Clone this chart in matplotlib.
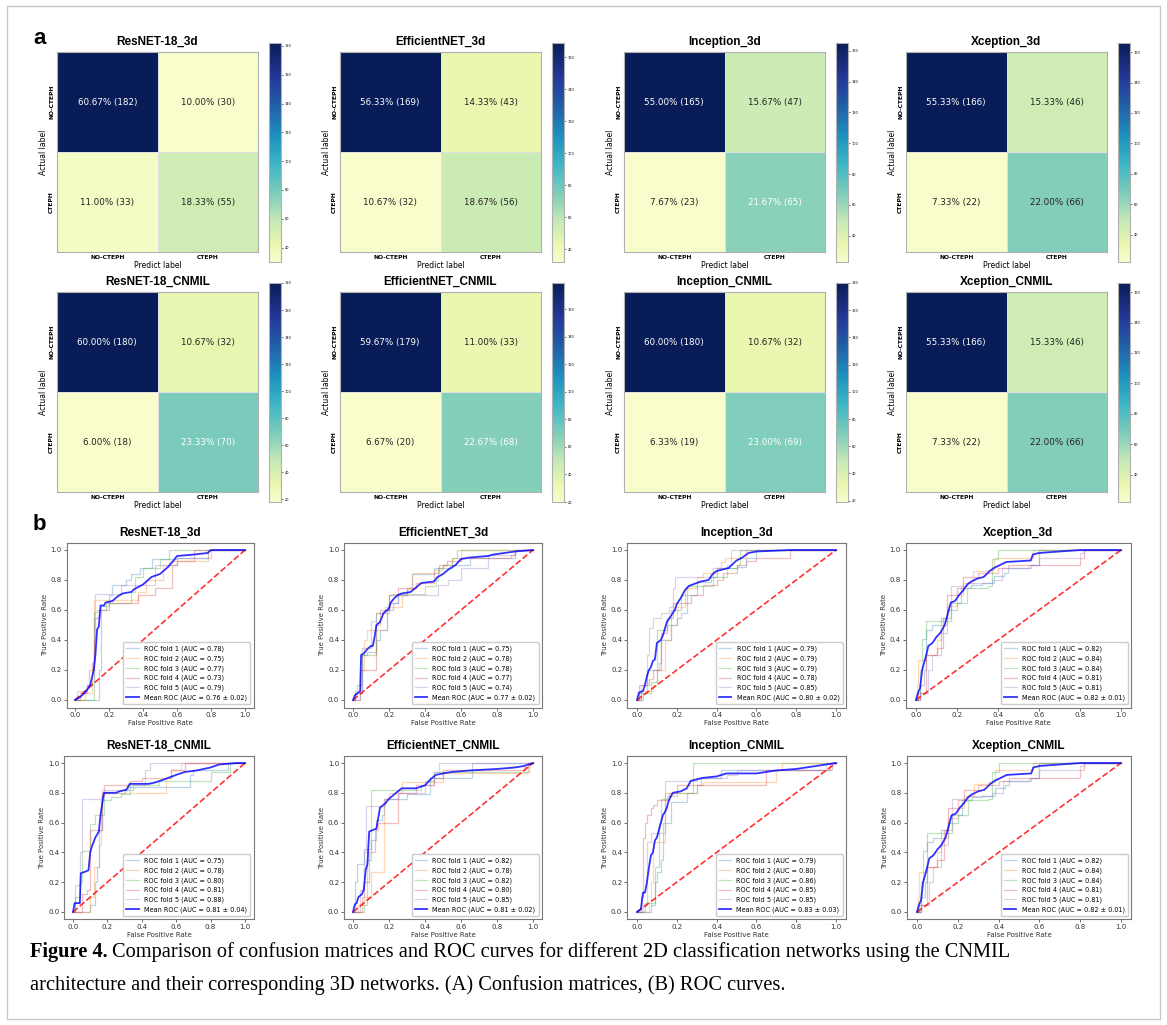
import numpy as np
import matplotlib.pyplot as plt
import seaborn as sns
from matplotlib.colors import ListedColormap
from matplotlib.patches import Rectangle

W, H = 1167, 1025

class_names = ["NO-CTEPH", "CTEPH"]
titles_3d = ["ResNET-18_3d", "EfficientNET_3d", "Inception_3d", "Xception_3d"]
titles_cnmil = ["ResNET-18_CNMIL", "EfficientNET_CNMIL", "Inception_CNMIL", "Xception_CNMIL"]

# confusion matrices (counts), rows = actual, cols = predicted
cm_resnet_3d = [[182, 30], [33, 55]]
cm_efficient_3d = [[169, 43], [32, 56]]
cm_inception_3d = [[165, 47], [23, 65]]
cm_xception_3d = [[166, 46], [22, 66]]
cm_resnet_cnmil = [[180, 32], [18, 70]]
cm_efficient_cnmil = [[179, 33], [20, 68]]
cm_inception_cnmil = [[180, 32], [19, 69]]
cm_xception_cnmil = [[166, 46], [22, 66]]

# ROC curves: (fpr, tpr) step points per fold
roc_resnet_3d = [
    [(0, 0), (0.14, 0.2), (0.15, 0.63), (0.2, 0.7), (0.22, 0.77), (0.3, 0.8), (0.33, 0.84), (0.38, 0.88), (0.45, 0.94), (0.6, 0.95), (0.78, 1.0), (1, 1)],
    [(0, 0), (0.06, 0.05), (0.1, 0.2), (0.11, 0.67), (0.37, 0.72), (0.42, 0.8), (0.52, 0.9), (0.55, 0.93), (0.78, 1.0), (1, 1)],
    [(0, 0), (0.11, 0.59), (0.13, 0.6), (0.18, 0.65), (0.33, 0.72), (0.35, 0.82), (0.4, 0.88), (0.5, 0.94), (0.55, 1.0), (1, 1)],
    [(0, 0), (0.03, 0.05), (0.07, 0.1), (0.08, 0.2), (0.1, 0.25), (0.11, 0.4), (0.12, 0.55), (0.14, 0.6), (0.2, 0.65), (0.37, 0.7), (0.47, 0.75), (0.57, 0.9), (0.6, 0.93), (0.7, 1.0), (1, 1)],
    [(0, 0), (0.01, 0.06), (0.07, 0.1), (0.1, 0.12), (0.11, 0.55), (0.12, 0.71), (0.27, 0.77), (0.47, 0.9), (0.6, 0.95), (0.8, 1.0), (1, 1)],
]
mean_resnet_3d = [(0, 0), (0.03, 0.02), (0.06, 0.05), (0.09, 0.1), (0.11, 0.2), (0.12, 0.3), (0.13, 0.47), (0.14, 0.49), (0.15, 0.63), (0.17, 0.63), (0.18, 0.65), (0.22, 0.66), (0.25, 0.69), (0.28, 0.71), (0.33, 0.72), (0.35, 0.74), (0.4, 0.77), (0.45, 0.82), (0.5, 0.84), (0.52, 0.86), (0.55, 0.89), (0.58, 0.93), (0.6, 0.96), (0.7, 0.97), (0.78, 0.98), (0.8, 1.0), (1, 1)]
auc_resnet_3d = [0.78, 0.75, 0.77, 0.73, 0.79]
mean_auc_resnet_3d = (0.76, 0.02)

roc_efficient_3d = [
    [(0, 0), (0.01, 0.05), (0.05, 0.3), (0.08, 0.32), (0.13, 0.4), (0.15, 0.47), (0.19, 0.6), (0.22, 0.65), (0.25, 0.7), (0.3, 0.75), (0.33, 0.84), (0.45, 0.88), (0.55, 0.9), (0.65, 0.95), (0.9, 1.0), (1, 1)],
    [(0, 0), (0.01, 0.05), (0.04, 0.2), (0.06, 0.4), (0.08, 0.47), (0.19, 0.6), (0.2, 0.62), (0.27, 0.7), (0.3, 0.74), (0.33, 0.85), (0.45, 0.87), (0.5, 0.9), (0.55, 0.95), (0.6, 1.0), (1, 1)],
    [(0, 0), (0.01, 0.06), (0.02, 0.1), (0.05, 0.3), (0.13, 0.58), (0.18, 0.62), (0.2, 0.7), (0.22, 0.71), (0.4, 0.76), (0.46, 0.8), (0.47, 0.88), (0.5, 0.9), (0.55, 0.95), (0.58, 1.0), (1, 1)],
    [(0, 0), (0.04, 0.2), (0.13, 0.5), (0.15, 0.6), (0.2, 0.7), (0.25, 0.75), (0.35, 0.78), (0.45, 0.85), (0.48, 0.9), (0.52, 0.93), (0.6, 0.95), (0.88, 0.97), (0.9, 1.0), (1, 1)],
    [(0, 0), (0.04, 0.05), (0.05, 0.35), (0.1, 0.53), (0.13, 0.58), (0.2, 0.65), (0.25, 0.7), (0.47, 0.77), (0.53, 0.8), (0.6, 0.88), (0.75, 0.97), (0.9, 1.0), (1, 1)],
]
mean_efficient_3d = [(0, 0), (0.01, 0.03), (0.03, 0.05), (0.04, 0.06), (0.045, 0.3), (0.06, 0.31), (0.08, 0.34), (0.1, 0.36), (0.11, 0.36), (0.12, 0.42), (0.13, 0.5), (0.15, 0.52), (0.17, 0.58), (0.2, 0.61), (0.21, 0.65), (0.23, 0.68), (0.25, 0.7), (0.27, 0.71), (0.32, 0.72), (0.35, 0.75), (0.38, 0.78), (0.45, 0.79), (0.47, 0.82), (0.5, 0.84), (0.53, 0.87), (0.57, 0.9), (0.6, 0.94), (0.65, 0.95), (0.75, 0.96), (0.78, 0.97), (0.9, 0.99), (1, 1)]
auc_efficient_3d = [0.75, 0.78, 0.78, 0.77, 0.74]
mean_auc_efficient_3d = (0.77, 0.02)

roc_inception_3d = [
    [(0, 0), (0.03, 0.05), (0.05, 0.2), (0.11, 0.25), (0.12, 0.4), (0.17, 0.5), (0.2, 0.55), (0.22, 0.58), (0.25, 0.7), (0.3, 0.79), (0.37, 0.82), (0.4, 0.88), (0.5, 0.89), (0.55, 0.95), (0.6, 1.0), (1, 1)],
    [(0, 0), (0.02, 0.06), (0.08, 0.1), (0.1, 0.2), (0.14, 0.4), (0.17, 0.5), (0.2, 0.62), (0.24, 0.75), (0.3, 0.82), (0.33, 0.85), (0.4, 0.88), (0.42, 0.92), (0.44, 0.95), (0.55, 1.0), (1, 1)],
    [(0, 0), (0.01, 0.05), (0.07, 0.12), (0.1, 0.47), (0.15, 0.5), (0.17, 0.6), (0.22, 0.7), (0.25, 0.76), (0.38, 0.82), (0.45, 0.88), (0.5, 0.9), (0.52, 1.0), (1, 1)],
    [(0, 0), (0.01, 0.1), (0.06, 0.14), (0.08, 0.2), (0.12, 0.45), (0.15, 0.55), (0.18, 0.65), (0.27, 0.7), (0.33, 0.77), (0.4, 0.8), (0.43, 0.85), (0.5, 0.9), (0.55, 0.93), (0.6, 0.95), (0.77, 1.0), (1, 1)],
    [(0, 0), (0.02, 0.1), (0.05, 0.3), (0.06, 0.48), (0.08, 0.55), (0.12, 0.58), (0.16, 0.62), (0.18, 0.75), (0.19, 0.82), (0.38, 0.88), (0.45, 0.9), (0.47, 1.0), (1, 1)],
]
mean_inception_3d = [(0, 0), (0.01, 0.05), (0.03, 0.06), (0.04, 0.1), (0.05, 0.16), (0.06, 0.2), (0.07, 0.22), (0.08, 0.26), (0.09, 0.27), (0.1, 0.38), (0.12, 0.4), (0.13, 0.43), (0.15, 0.52), (0.17, 0.56), (0.19, 0.6), (0.2, 0.64), (0.22, 0.68), (0.24, 0.73), (0.26, 0.76), (0.28, 0.77), (0.32, 0.79), (0.36, 0.8), (0.38, 0.84), (0.4, 0.86), (0.43, 0.87), (0.46, 0.88), (0.5, 0.93), (0.53, 0.95), (0.56, 0.98), (0.6, 0.99), (0.77, 1.0), (1, 1)]
auc_inception_3d = [0.79, 0.79, 0.79, 0.78, 0.85]
mean_auc_inception_3d = (0.80, 0.02)

roc_xception_3d = [
    [(0, 0), (0.02, 0.1), (0.04, 0.2), (0.05, 0.47), (0.08, 0.5), (0.12, 0.55), (0.15, 0.6), (0.17, 0.65), (0.22, 0.75), (0.27, 0.77), (0.32, 0.78), (0.38, 0.83), (0.43, 0.85), (0.45, 0.88), (0.56, 0.9), (0.6, 1.0), (1, 1)],
    [(0, 0), (0.005, 0.1), (0.01, 0.27), (0.05, 0.3), (0.1, 0.4), (0.12, 0.5), (0.15, 0.63), (0.2, 0.7), (0.23, 0.78), (0.28, 0.86), (0.35, 0.87), (0.38, 0.95), (0.57, 1.0), (1, 1)],
    [(0, 0), (0.02, 0.2), (0.03, 0.41), (0.05, 0.53), (0.17, 0.6), (0.2, 0.65), (0.25, 0.75), (0.35, 0.76), (0.37, 0.94), (0.4, 1.0), (1, 1)],
    [(0, 0), (0.01, 0.05), (0.05, 0.3), (0.1, 0.35), (0.13, 0.55), (0.15, 0.7), (0.2, 0.75), (0.23, 0.82), (0.3, 0.85), (0.4, 0.88), (0.45, 0.9), (0.8, 0.95), (0.82, 1.0), (1, 1)],
    [(0, 0), (0.02, 0.05), (0.06, 0.2), (0.08, 0.3), (0.12, 0.45), (0.15, 0.55), (0.17, 0.76), (0.25, 0.78), (0.37, 0.8), (0.42, 0.88), (0.55, 0.9), (0.6, 0.95), (0.8, 0.98), (0.82, 1.0), (1, 1)],
]
mean_xception_3d = [(0, 0), (0.01, 0.05), (0.02, 0.08), (0.03, 0.2), (0.04, 0.25), (0.05, 0.3), (0.06, 0.36), (0.08, 0.38), (0.1, 0.42), (0.12, 0.45), (0.14, 0.5), (0.15, 0.55), (0.16, 0.6), (0.17, 0.65), (0.19, 0.66), (0.21, 0.7), (0.23, 0.73), (0.25, 0.77), (0.27, 0.79), (0.3, 0.81), (0.33, 0.82), (0.36, 0.86), (0.38, 0.88), (0.41, 0.9), (0.44, 0.92), (0.56, 0.93), (0.57, 0.97), (0.6, 0.98), (0.8, 1.0), (1, 1)]
auc_xception_3d = [0.82, 0.84, 0.84, 0.81, 0.81]
mean_auc_xception_3d = (0.82, 0.01)

roc_resnet_cnmil = [
    [(0, 0), (0.1, 0.05), (0.13, 0.2), (0.14, 0.3), (0.15, 0.55), (0.17, 0.75), (0.18, 0.8), (0.3, 0.82), (0.32, 0.84), (0.68, 0.92), (0.7, 0.95), (0.9, 1.0), (1, 1)],
    [(0, 0), (0.1, 0.1), (0.12, 0.3), (0.15, 0.45), (0.16, 0.78), (0.18, 0.8), (0.54, 0.9), (0.57, 0.95), (0.63, 1.0), (1, 1)],
    [(0, 0), (0.01, 0.1), (0.04, 0.2), (0.05, 0.41), (0.1, 0.59), (0.13, 0.65), (0.18, 0.75), (0.22, 0.77), (0.28, 0.79), (0.33, 0.85), (0.5, 0.88), (0.8, 0.94), (0.91, 1.0), (1, 1)],
    [(0, 0), (0.05, 0.12), (0.08, 0.15), (0.1, 0.55), (0.17, 0.8), (0.18, 0.85), (0.33, 0.88), (0.4, 0.9), (0.57, 0.95), (0.65, 1.0), (1, 1)],
    [(0, 0), (0.01, 0.18), (0.04, 0.4), (0.05, 0.76), (0.17, 0.82), (0.35, 0.85), (0.42, 0.95), (0.45, 1.0), (1, 1)],
]
mean_resnet_cnmil = [(0, 0), (0.01, 0.06), (0.04, 0.06), (0.045, 0.26), (0.07, 0.27), (0.09, 0.28), (0.1, 0.4), (0.11, 0.44), (0.13, 0.5), (0.15, 0.54), (0.16, 0.65), (0.17, 0.73), (0.18, 0.8), (0.25, 0.8), (0.27, 0.81), (0.31, 0.82), (0.33, 0.86), (0.44, 0.86), (0.48, 0.87), (0.53, 0.89), (0.6, 0.92), (0.65, 0.94), (0.72, 0.95), (0.8, 0.97), (0.85, 0.99), (0.95, 1.0), (1, 1)]
auc_resnet_cnmil = [0.75, 0.78, 0.80, 0.81, 0.88]
mean_auc_resnet_cnmil = (0.81, 0.04)

roc_efficient_cnmil = [
    [(0, 0), (0.01, 0.2), (0.02, 0.32), (0.06, 0.42), (0.1, 0.48), (0.13, 0.62), (0.16, 0.65), (0.17, 0.76), (0.3, 0.79), (0.43, 0.9), (0.66, 1.0), (1, 1)],
    [(0, 0), (0.03, 0.05), (0.06, 0.1), (0.1, 0.27), (0.17, 0.76), (0.2, 0.8), (0.27, 0.87), (0.5, 0.93), (0.97, 1.0), (1, 1)],
    [(0, 0), (0.06, 0.05), (0.08, 0.35), (0.1, 0.82), (0.38, 0.85), (0.4, 0.88), (0.45, 0.94), (0.98, 1.0), (1, 1)],
    [(0, 0), (0.05, 0.1), (0.06, 0.2), (0.09, 0.4), (0.12, 0.55), (0.14, 0.6), (0.25, 0.8), (0.35, 0.85), (0.45, 0.9), (0.5, 0.95), (0.95, 0.97), (0.97, 1.0), (1, 1)],
    [(0, 0), (0.04, 0.15), (0.06, 0.4), (0.07, 0.71), (0.18, 0.76), (0.25, 0.8), (0.4, 0.85), (0.45, 0.94), (0.48, 1.0), (1, 1)],
]
mean_efficient_cnmil = [(0, 0), (0.01, 0.05), (0.02, 0.06), (0.03, 0.1), (0.05, 0.12), (0.06, 0.15), (0.07, 0.28), (0.08, 0.32), (0.09, 0.54), (0.11, 0.55), (0.13, 0.56), (0.15, 0.7), (0.18, 0.73), (0.2, 0.76), (0.22, 0.78), (0.24, 0.8), (0.27, 0.83), (0.35, 0.83), (0.4, 0.85), (0.43, 0.89), (0.46, 0.92), (0.5, 0.93), (0.55, 0.94), (0.65, 0.95), (0.8, 0.96), (0.9, 0.97), (0.95, 0.98), (1, 1)]
auc_efficient_cnmil = [0.82, 0.78, 0.82, 0.80, 0.85]
mean_auc_efficient_cnmil = (0.81, 0.02)

roc_inception_cnmil = [
    [(0, 0), (0.07, 0.05), (0.09, 0.2), (0.1, 0.27), (0.12, 0.35), (0.13, 0.6), (0.17, 0.74), (0.25, 0.8), (0.3, 0.85), (0.32, 0.9), (0.42, 0.95), (0.98, 1.0), (1, 1)],
    [(0, 0), (0.06, 0.05), (0.07, 0.2), (0.08, 0.47), (0.14, 0.8), (0.3, 0.85), (0.33, 0.87), (0.7, 0.95), (0.73, 1.0), (1, 1)],
    [(0, 0), (0.04, 0.06), (0.09, 0.3), (0.11, 0.6), (0.12, 0.76), (0.15, 0.78), (0.2, 0.8), (0.28, 1.0), (1, 1)],
    [(0, 0), (0.02, 0.1), (0.03, 0.5), (0.04, 0.6), (0.05, 0.65), (0.07, 0.7), (0.08, 0.72), (0.1, 0.75), (0.16, 0.8), (0.2, 0.85), (0.65, 0.95), (0.97, 1.0), (1, 1)],
    [(0, 0), (0.03, 0.05), (0.05, 0.47), (0.07, 0.53), (0.14, 0.88), (0.3, 0.9), (0.45, 0.92), (0.5, 0.95), (0.95, 1.0), (1, 1)],
]
mean_inception_cnmil = [(0, 0), (0.02, 0.02), (0.03, 0.13), (0.04, 0.13), (0.05, 0.2), (0.06, 0.3), (0.07, 0.38), (0.08, 0.4), (0.09, 0.48), (0.1, 0.5), (0.11, 0.55), (0.12, 0.6), (0.13, 0.65), (0.14, 0.67), (0.15, 0.7), (0.16, 0.75), (0.18, 0.8), (0.22, 0.81), (0.25, 0.83), (0.27, 0.88), (0.3, 0.89), (0.33, 0.9), (0.4, 0.91), (0.45, 0.93), (0.6, 0.93), (0.65, 0.94), (0.7, 0.95), (0.8, 0.96), (0.9, 0.98), (0.95, 0.99), (1, 1)]
auc_inception_cnmil = [0.79, 0.80, 0.86, 0.85, 0.85]
mean_auc_inception_cnmil = (0.83, 0.03)

# Xception_CNMIL panel shows the same curves as Xception_3d
roc_xception_cnmil = roc_xception_3d
mean_xception_cnmil = mean_xception_3d
auc_xception_cnmil = [0.82, 0.84, 0.84, 0.81, 0.81]
mean_auc_xception_cnmil = (0.82, 0.01)

cms = [[cm_resnet_3d, cm_efficient_3d, cm_inception_3d, cm_xception_3d],
       [cm_resnet_cnmil, cm_efficient_cnmil, cm_inception_cnmil, cm_xception_cnmil]]
rocs = [[(roc_resnet_3d, mean_resnet_3d, auc_resnet_3d, mean_auc_resnet_3d),
         (roc_efficient_3d, mean_efficient_3d, auc_efficient_3d, mean_auc_efficient_3d),
         (roc_inception_3d, mean_inception_3d, auc_inception_3d, mean_auc_inception_3d),
         (roc_xception_3d, mean_xception_3d, auc_xception_3d, mean_auc_xception_3d)],
        [(roc_resnet_cnmil, mean_resnet_cnmil, auc_resnet_cnmil, mean_auc_resnet_cnmil),
         (roc_efficient_cnmil, mean_efficient_cnmil, auc_efficient_cnmil, mean_auc_efficient_cnmil),
         (roc_inception_cnmil, mean_inception_cnmil, auc_inception_cnmil, mean_auc_inception_cnmil),
         (roc_xception_cnmil, mean_xception_cnmil, auc_xception_cnmil, mean_auc_xception_cnmil)]]
titles = [titles_3d, titles_cnmil]
# counts at or above which the cell text is drawn white
white_from = [[100, 100, 60, 100], [60, 60, 60, 100]]

# YlGnBu, slightly shifted toward green like the reference rendering
base = plt.get_cmap("YlGnBu")
cm_cmap = ListedColormap(base(0.04 + 0.96 * np.linspace(0, 1, 256) ** 0.9))

fig = plt.figure(figsize=(W / 100, H / 100), dpi=100)
fig.patch.set_facecolor("white")


def px_axes(left, top, right, bottom):
    return fig.add_axes([left / W, 1 - bottom / H, (right - left) / W, (bottom - top) / H])


# page frame
fig.patches.append(Rectangle((7 / W, 1 - 1019 / H), 1153 / W, 1013 / H, transform=fig.transFigure,
                             fill=False, edgecolor="#c8c8c8", lw=1))

# ---------- (a) confusion matrices ----------
hm_left = [57, 340, 624, 906]
cb_left = [269, 552, 836, 1118]
row_top = [52, 292]
for r in range(2):
    for c in range(4):
        data = np.array(cms[r][c])
        total = data.sum()
        t = row_top[r]
        ax = px_axes(hm_left[c], t, hm_left[c] + 201, t + 200)
        cax = px_axes(cb_left[c], t - 9, cb_left[c] + 12, t + 210)
        sns.heatmap(data, annot=False, cmap=cm_cmap, ax=ax, cbar_ax=cax,
                    linewidths=0.6, linecolor="#e0e0e0")
        for i in range(2):
            for j in range(2):
                v = data[i, j]
                ax.text(j + 0.5, i + 0.5, f"{v / total * 100:.2f}% ({v})", ha="center", va="center",
                        fontsize=6.3, color="white" if v >= white_from[r][c] else "#222222")
        ax.set_xticklabels(class_names, fontsize=4.3, fontweight="bold")
        ax.set_yticklabels(class_names, fontsize=4.3, fontweight="bold", rotation=90, va="center")
        ax.tick_params(length=0, pad=2)
        ax.set_xlabel("Predict label", fontsize=5.5, labelpad=1)
        ax.set_ylabel("Actual label", fontsize=5.5, labelpad=1)
        ax.set_title(titles[r][c], fontsize=8.5, fontweight="bold", family="Liberation Sans", pad=5)
        for sp in ax.spines.values():
            sp.set_visible(True)
            sp.set_color("#b0b0b0")
            sp.set_linewidth(0.8)
        cbar = ax.collections[0].colorbar
        cbar.outline.set_edgecolor("#b0b0b0")
        cbar.outline.set_linewidth(0.8)
        cax.tick_params(labelsize=2.5, length=1.5, width=0.4, pad=1)

fig.text(33 / W, 1 - 38 / H, "a", fontsize=16, fontweight="bold", family="Liberation Sans", va="center")
fig.text(33 / W, 1 - 525 / H, "b", fontsize=16, fontweight="bold", family="Liberation Sans", va="center")

# ---------- (b) ROC curves ----------
x0_px = [[75, 353, 637, 916], [73, 353, 637, 917]]
x1_px = [[245, 533, 836, 1121], [245, 533, 836, 1121]]
y1_px = [550, 763]
y0_px = [700, 912]
fold_colors = ["C0", "C1", "C2", "C3", "C4"]
for r in range(2):
    for c in range(4):
        folds, mean_pts, aucs, (m_auc, s_auc) = rocs[r][c]
        sx = x1_px[r][c] - x0_px[r][c]
        sy = y0_px[r] - y1_px[r]
        ax = px_axes(x0_px[r][c] - 0.05 * sx, y1_px[r] - 0.05 * sy,
                     x1_px[r][c] + 0.05 * sx, y0_px[r] + 0.05 * sy)
        for i, pts in enumerate(folds):
            fx, fy = zip(*pts)
            ax.plot(fx, fy, drawstyle="steps-post", color=fold_colors[i], lw=0.9, alpha=0.3,
                    label=f"ROC fold {i + 1} (AUC = {aucs[i]:.2f})")
        ax.plot([0, 1], [0, 1], linestyle="--", lw=1.2, color="r", alpha=0.8)
        mx, my = zip(*mean_pts)
        ax.plot(mx, my, color="b", lw=1.3, alpha=0.8,
                label=f"Mean ROC (AUC = {m_auc:.2f} \u00b1 {s_auc:.2f})")
        ax.set_xlim(-0.05, 1.05)
        ax.set_ylim(-0.05, 1.05)
        ax.set_xticks(np.arange(0, 1.01, 0.2))
        ax.set_yticks(np.arange(0, 1.01, 0.2))
        ax.tick_params(labelsize=5, length=2, width=0.5, pad=1.5, colors="#333333")
        ax.set_xlabel("False Positive Rate", fontsize=5, labelpad=1.5, color="#333333")
        ax.set_ylabel("True Positive Rate", fontsize=5, labelpad=2, color="#333333")
        ax.set_title(titles[r][c], fontsize=8.5, fontweight="bold", family="Liberation Sans", pad=5)
        for sp in ax.spines.values():
            sp.set_color("#777777")
            sp.set_linewidth(0.8)
        ax.legend(loc="lower right", fontsize=4.7, handlelength=1.9, borderpad=0.5,
                  labelspacing=0.5, framealpha=1, edgecolor="#cccccc", fancybox=True)

# ---------- caption ----------
cap_fs = 14.7
cap_y1 = 1 - 952 / H
cap_y2 = 1 - 985 / H
t_bold = fig.text(30 / W, cap_y1, "Figure 4.", fontsize=cap_fs, fontweight="bold",
                  family="Liberation Serif", va="center")
fig.canvas.draw()
bb = t_bold.get_window_extent()
fig.text(bb.x1 / W + 4 / W, cap_y1,
         "Comparison of confusion matrices and ROC curves for different 2D classification networks using the CNMIL",
         fontsize=cap_fs, family="Liberation Serif", va="center")
fig.text(30 / W, cap_y2, "architecture and their corresponding 3D networks. (A) Confusion matrices, (B) ROC curves.",
         fontsize=cap_fs, family="Liberation Serif", va="center")

fig.savefig("out.png", dpi=100)
